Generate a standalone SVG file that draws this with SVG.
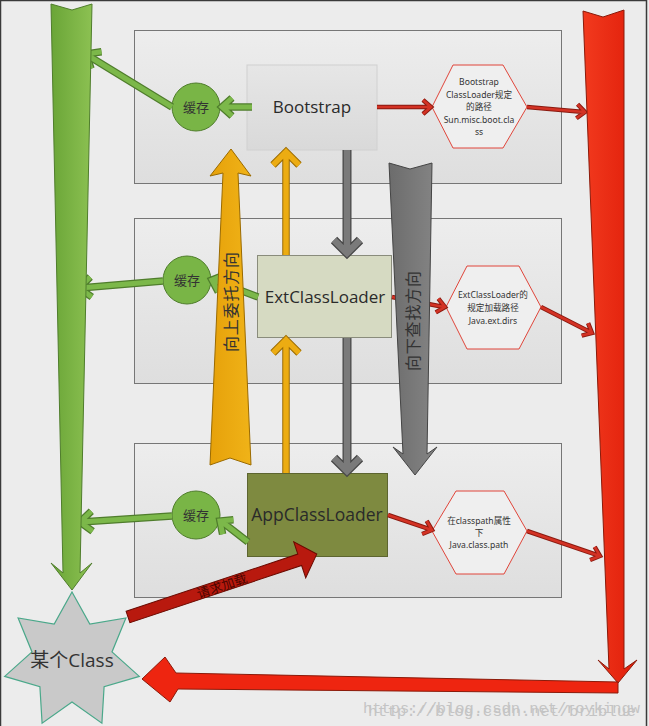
<svg xmlns="http://www.w3.org/2000/svg" xmlns:xlink="http://www.w3.org/1999/xlink" width="649" height="726" viewBox="0 0 649 726">
<style>
.panel{fill:url(#gPanel);stroke:#767676;stroke-width:1}
.lbl{font-family:"Open Sans","Noto Sans",sans-serif;fill:#2a2a2a;text-anchor:middle}
.hex{fill:#efefef;stroke:#e0453a;stroke-width:1}
.hx{font-family:"Noto Sans","Noto Sans CJK SC",sans-serif;font-size:8.6px;fill:#333;text-anchor:middle}
.cache{fill:#79b546;stroke:#4f7d2c;stroke-width:1}
.ct{font-family:"Noto Sans CJK SC",sans-serif;font-size:13px;fill:#333;text-anchor:middle}
.go{fill:none;stroke:#4f7d2c;stroke-width:7.5;stroke-linejoin:miter;stroke-linecap:butt}
.gi{fill:none;stroke:#7cb84a;stroke-width:5;stroke-linejoin:miter;stroke-linecap:butt}
.ro{fill:none;stroke:#8a1a10;stroke-width:4.5;stroke-linejoin:miter}
.ri{fill:none;stroke:#d33224;stroke-width:2.6;stroke-linejoin:miter}
.ao{fill:none;stroke:#484848;stroke-width:9;stroke-linejoin:miter}
.ai{fill:none;stroke:#7a7a7a;stroke-width:6.5;stroke-linejoin:miter}
.oo{fill:none;stroke:#9a6a00;stroke-width:7.5;stroke-linejoin:miter}
.oi{fill:none;stroke:#ecac12;stroke-width:5.5;stroke-linejoin:miter}
.vt{font-family:"Noto Sans CJK SC",sans-serif;font-size:16px;fill:#333;text-anchor:middle}
.wm{font-family:"Liberation Mono",monospace;font-size:15px;fill:#c4c4c4}
</style>
<defs>
<linearGradient id="gPanel" x1="0" y1="0" x2="0" y2="1"><stop offset="0" stop-color="#ededed"/><stop offset="1" stop-color="#dedede"/></linearGradient>
<linearGradient id="gBoot" x1="0" y1="0" x2="0" y2="1"><stop offset="0" stop-color="#e6e6e6"/><stop offset="1" stop-color="#d9d9d9"/></linearGradient>
<linearGradient id="gGreen" x1="0" y1="0" x2="1" y2="0"><stop offset="0" stop-color="#6aa537"/><stop offset="1" stop-color="#8cc152"/></linearGradient>
<linearGradient id="gRed" x1="0" y1="0" x2="1" y2="0"><stop offset="0" stop-color="#f23a1e"/><stop offset="1" stop-color="#e01e0a"/></linearGradient>
<linearGradient id="gGray" x1="0" y1="0" x2="1" y2="0"><stop offset="0" stop-color="#6c6c6c"/><stop offset="1" stop-color="#858585"/></linearGradient>
<linearGradient id="gOrange" x1="0" y1="0" x2="1" y2="0"><stop offset="0" stop-color="#e6a10a"/><stop offset="1" stop-color="#f0b318"/></linearGradient>
<path id="g1" d="M252,107 L223,107 M232,98 L222,107 L232,116"/>
<path id="g2" d="M172,107 L87,55 M101.5,51.8 L86,54 L91,68.8"/>
<path id="g3" d="M258,297 L213,280 M224.5,275.1 L212,280 L218.3,291.9"/>
<path id="g4" d="M163,281 L80,288 M90.2,277 L79,288 L91.8,297"/>
<path id="g5" d="M248,542 L221,521 M233.4,519.8 L220,521 L222.6,534.2"/>
<path id="g6" d="M172,516 L81,522 M91.3,511.2 L80,522 L92.6,531.2"/>
<path id="r1" d="M377,107 L430,107 M423,100 L431,107 L423,114"/>
<path id="r2" d="M527,107 L584,112 M576.4,118.3 L585,112 L577.6,104.3"/>
<path id="r3" d="M392,297 L444,307 M435.8,312.4 L445,307 L438.4,298.6"/>
<path id="r4" d="M541,307 L591,332.5 M581.7,335.6 L592,333 L588.1,323.2"/>
<path id="r5" d="M388,515 L431,529.7 M422.1,534 L432,530 L426.7,520.8"/>
<path id="r6" d="M527,531 L599,555.7 M590.1,560 L600,556 L594.7,546.8"/>
<path id="a1" d="M347,150 L347,253 M334,240 L347,253 L360,240"/>
<path id="a2" d="M347,338 L347,471 M334,458 L347,471 L360,458"/>
<path id="o1" d="M286,255 L286,152 M273,165 L286,152 L299,165"/>
<path id="o2" d="M286,473 L286,340 M273,353 L286,340 L299,353"/>
</defs>

<rect x="0" y="0" width="649" height="726" fill="#ececec"/>
<rect x="0.5" y="0.5" width="646" height="727" fill="none" stroke="#3a3a3a" stroke-width="1.5"/>

<g id="panel-bootstrap"><rect class="panel" x="134.5" y="30.5" width="427" height="153"/></g>
<g id="panel-ext"><rect class="panel" x="134.5" y="218.5" width="427" height="165"/></g>
<g id="panel-app"><rect class="panel" x="134.5" y="443.5" width="427" height="154"/></g>

<g id="bootstrap">
<rect x="247" y="65" width="130" height="85" fill="url(#gBoot)" stroke="#d0d0d0" stroke-width="1"/>
<text class="lbl" x="312" y="113" font-size="17">Bootstrap</text>
</g>
<g id="extclassloader">
<rect x="257.5" y="255.5" width="134" height="82" fill="#d6dac2" stroke="#8a8c7c" stroke-width="1"/>
<text class="lbl" x="325" y="303" font-size="17">ExtClassLoader</text>
</g>
<g id="appclassloader">
<rect x="247.5" y="473.5" width="140" height="83" fill="#7e8a40" stroke="#5d6530" stroke-width="1"/>
<text class="lbl" x="317" y="521" font-size="17.5" fill="#151515">AppClassLoader</text>
</g>

<g id="hex-bootstrap">
<polygon class="hex" points="432,107 453,65 503,65 527,107 503,148 453,148"/>
<text class="hx" x="479" y="85">Bootstrap</text>
<text class="hx" x="479" y="98">ClassLoader规定</text>
<text class="hx" x="479" y="110">的路径</text>
<text class="hx" x="479" y="123">Sun.misc.boot.cla</text>
<text class="hx" x="479" y="135">ss</text>
</g>
<g id="hex-ext">
<polygon class="hex" points="446,307 467,266 519,266 541,307 519,349 467,349"/>
<text class="hx" x="493" y="298">ExtClassLoader的</text>
<text class="hx" x="493" y="311">规定加载路径</text>
<text class="hx" x="493" y="324">Java.ext.dirs</text>
</g>
<g id="hex-app">
<polygon class="hex" points="432,531 456,491 504,491 527,531 504,574 456,574"/>
<text class="hx" x="479" y="524">在classpath属性</text>
<text class="hx" x="479" y="536">下</text>
<text class="hx" x="479" y="548">Java.class.path</text>
</g>

<g id="cache-bootstrap"><circle class="cache" cx="196" cy="107" r="24"/><text class="ct" x="196" y="112">缓存</text></g>
<g id="cache-ext"><circle class="cache" cx="187" cy="280" r="24"/><text class="ct" x="187" y="285">缓存</text></g>
<g id="cache-app"><circle class="cache" cx="196" cy="515" r="24"/><text class="ct" x="196" y="520">缓存</text></g>

<g id="some-class">
<polygon points="72,592 89.8,624.1 125.9,618 112,651.9 139.3,676.4 104.1,686.6 101.9,723.2 72,702 42.1,723.2 39.9,686.6 4.7,676.4 32,651.9 18.1,618 54.2,624.1" fill="#c9c9c9" stroke="#4aa88a" stroke-width="1.2"/>
<text x="72" y="667" font-family="'Open Sans','Noto Sans CJK SC',sans-serif" font-size="19" fill="#333" text-anchor="middle">某个Class</text>
</g>

<g id="connectors">
<use xlink:href="#g1" class="go"/><use xlink:href="#g1" class="gi"/>
<use xlink:href="#g2" class="go"/><use xlink:href="#g2" class="gi"/>
<use xlink:href="#g3" class="go"/><use xlink:href="#g3" class="gi"/>
<use xlink:href="#g4" class="go"/><use xlink:href="#g4" class="gi"/>
<use xlink:href="#g5" class="go"/><use xlink:href="#g5" class="gi"/>
<use xlink:href="#g6" class="go"/><use xlink:href="#g6" class="gi"/>
<use xlink:href="#r1" class="ro"/><use xlink:href="#r1" class="ri"/>
<use xlink:href="#r2" class="ro"/><use xlink:href="#r2" class="ri"/>
<use xlink:href="#r3" class="ro"/><use xlink:href="#r3" class="ri"/>
<use xlink:href="#r4" class="ro"/><use xlink:href="#r4" class="ri"/>
<use xlink:href="#r5" class="ro"/><use xlink:href="#r5" class="ri"/>
<use xlink:href="#r6" class="ro"/><use xlink:href="#r6" class="ri"/>
<use xlink:href="#a1" class="ao"/><use xlink:href="#a1" class="ai"/>
<use xlink:href="#a2" class="ao"/><use xlink:href="#a2" class="ai"/>
<use xlink:href="#o1" class="oo"/><use xlink:href="#o1" class="oi"/>
<use xlink:href="#o2" class="oo"/><use xlink:href="#o2" class="oi"/>

<polygon points="51,4 72,10 92,4 80,573 92,563 72,590 51,563 63,573" fill="url(#gGreen)" stroke="#4f7d2c" stroke-width="1"/>
<polygon points="583,11 603,17 624,10 624,669 637,660 618,683 598,660 609,669" fill="url(#gRed)" stroke="#8a1a0a" stroke-width="1"/>
<polygon points="618,682 176,673 165,657 142,679 170,702 178,689 618,693" fill="#ee2510" stroke="#8a1a0a" stroke-width="1"/>

<polygon points="231,149 251,176 238,173 251,465 230,458 210,465 223,173 210,176" fill="url(#gOrange)" stroke="#9a6a00" stroke-width="1"/>
<text class="vt" transform="translate(231,302) rotate(-90)" dy="5.5" textLength="100" lengthAdjust="spacing">向上委托方向</text>

<polygon points="389,163 410,169 432,163 427,454 437,447 415,475 393,447 403,454" fill="url(#gGray)" stroke="#444" stroke-width="1"/>
<text class="vt" transform="translate(413,321) rotate(-90)" dy="5.5" textLength="100" lengthAdjust="spacing">向下查找方向</text>

<g transform="translate(128,617) rotate(-18.43)">
<polygon points="0,-6 181,-6 181,-19 199,0 181,19 181,6 0,6" fill="#b8190e" stroke="#6a0a00" stroke-width="1"/>
<text x="99" y="5" font-family="'Noto Sans CJK SC',sans-serif" font-size="13" fill="#4a0600" text-anchor="middle">请求加载</text>
</g>
</g>

<text class="wm" x="363" y="713" textLength="277" lengthAdjust="spacingAndGlyphs">https://blog.csdn.net/roykingw</text>
<text class="wm" x="368" y="716" textLength="268" lengthAdjust="spacingAndGlyphs">http://blog.csdn.net/briblue</text>
</svg>
